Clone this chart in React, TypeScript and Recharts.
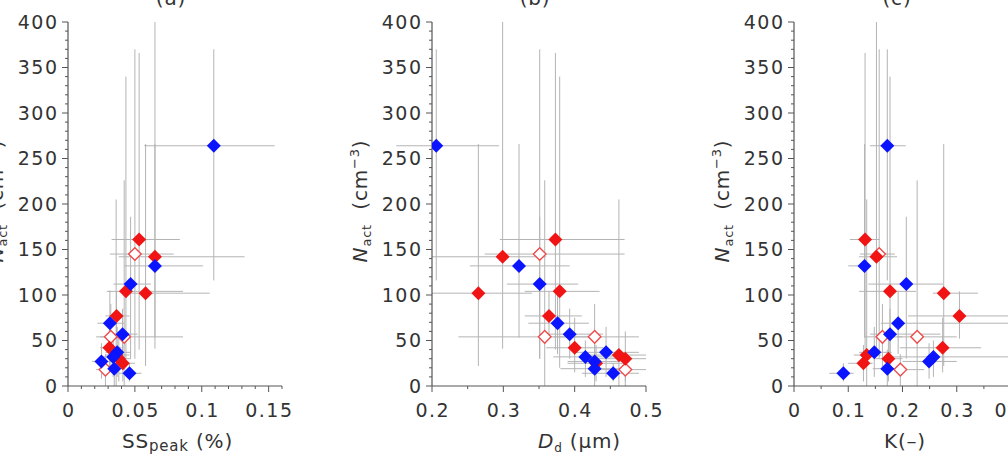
import React from 'react';
import { ScatterChart, Scatter, XAxis, YAxis, ErrorBar } from 'recharts';

// Each point: N_act with its range, and the three predictors (SS_peak, D_d, kappa) with ranges.
type Pt = {
  n: number; nR: [number, number];
  ss: number; ssR: [number, number];
  dd: number; ddR: [number, number];
  k: number; kR: [number, number];
};

const bluePoints: Pt[] = [
  { n: 264, nR: [116, 370], ss: 0.109, ssR: [0.057, 0.1545], dd: 0.206, ddR: [0.15, 0.294], k: 0.172, kR: [0.14, 0.206] },
  { n: 132, nR: [53, 266], ss: 0.065, ssR: [0.042, 0.101], dd: 0.322, ddR: [0.253, 0.393], k: 0.13, kR: [0.1, 0.14] },
  { n: 112, nR: [30, 186], ss: 0.0468, ssR: [0.034, 0.062], dd: 0.351, ddR: [0.305, 0.405], k: 0.207, kR: [0.137, 0.275] },
  { n: 69, nR: [35, 105], ss: 0.0313, ssR: [0.022, 0.042], dd: 0.376, ddR: [0.335, 0.42], k: 0.192, kR: [0.16, 0.42] },
  { n: 57, nR: [30, 85], ss: 0.0408, ssR: [0.03, 0.052], dd: 0.393, ddR: [0.35, 0.44], k: 0.177, kR: [0.14, 0.27] },
  { n: 37, nR: [10, 65], ss: 0.0368, ssR: [0.028, 0.047], dd: 0.444, ddR: [0.4, 0.49], k: 0.148, kR: [0.12, 0.18] },
  { n: 32, nR: [10, 50], ss: 0.0338, ssR: [0.025, 0.043], dd: 0.415, ddR: [0.37, 0.46], k: 0.257, kR: [0.18, 0.42] },
  { n: 27, nR: [8, 47], ss: 0.025, ssR: [0.018, 0.034], dd: 0.428, ddR: [0.39, 0.47], k: 0.249, kR: [0.2, 0.3] },
  { n: 19, nR: [0, 40], ss: 0.0346, ssR: [0.027, 0.043], dd: 0.428, ddR: [0.38, 0.47], k: 0.172, kR: [0.145, 0.2] },
  { n: 14, nR: [5, 25], ss: 0.046, ssR: [0.038, 0.055], dd: 0.454, ddR: [0.41, 0.49], k: 0.091, kR: [0.065, 0.11] },
];

const redPoints: Pt[] = [
  { n: 161, nR: [40, 366], ss: 0.0532, ssR: [0.0326, 0.0836], dd: 0.373, ddR: [0.295, 0.47], k: 0.131, kR: [0.103, 0.158] },
  { n: 142, nR: [41, 400], ss: 0.065, ssR: [0.038, 0.132], dd: 0.299, ddR: [0.2, 0.36], k: 0.152, kR: [0.12, 0.19] },
  { n: 104, nR: [20, 340], ss: 0.0433, ssR: [0.029, 0.086], dd: 0.379, ddR: [0.33, 0.435], k: 0.177, kR: [0.12, 0.225] },
  { n: 102, nR: [22, 266], ss: 0.058, ssR: [0.044, 0.106], dd: 0.265, ddR: [0.2, 0.34], k: 0.276, kR: [0.256, 0.339] },
  { n: 77, nR: [52, 104], ss: 0.0363, ssR: [0.028, 0.046], dd: 0.364, ddR: [0.33, 0.41], k: 0.305, kR: [0.21, 0.42] },
  { n: 42, nR: [15, 75], ss: 0.031, ssR: [0.024, 0.04], dd: 0.4, ddR: [0.36, 0.44], k: 0.274, kR: [0.195, 0.345] },
  { n: 34, nR: [0, 205], ss: 0.036, ssR: [0.028, 0.046], dd: 0.462, ddR: [0.42, 0.5], k: 0.134, kR: [0.11, 0.16] },
  { n: 30, nR: [5, 60], ss: 0.038, ssR: [0.03, 0.047], dd: 0.471, ddR: [0.43, 0.5], k: 0.174, kR: [0.15, 0.2] },
  { n: 25, nR: [5, 45], ss: 0.041, ssR: [0.033, 0.05], dd: 0.43, ddR: [0.39, 0.47], k: 0.128, kR: [0.1, 0.145] },
];

const openPoints: Pt[] = [
  { n: 145, nR: [30, 370], ss: 0.05, ssR: [0.0313, 0.079], dd: 0.351, ddR: [0.274, 0.47], k: 0.157, kR: [0.1215, 0.186] },
  { n: 54, nR: [0, 226], ss: 0.042, ssR: [0.021, 0.086], dd: 0.358, ddR: [0.237, 0.42], k: 0.227, kR: [0.19, 0.3] },
  { n: 54, nR: [20, 90], ss: 0.032, ssR: [0.024, 0.041], dd: 0.428, ddR: [0.37, 0.49], k: 0.163, kR: [0.13, 0.2] },
  { n: 18, nR: [0, 35], ss: 0.028, ssR: [0.021, 0.036], dd: 0.471, ddR: [0.43, 0.5], k: 0.196, kR: [0.16, 0.24] },
];

const makeTicks = (from: number, to: number, step: number) => {
  const out: number[] = [];
  const count = Math.round((to - from) / step);
  for (let i = 0; i <= count; i++) out.push(Number((from + i * step).toFixed(4)));
  return out;
};

const nActTicks = makeTicks(0, 400, 10);
const ssTicks = makeTicks(0, 0.16, 0.01);
const ddTicks = makeTicks(0.2, 0.5, 0.05);
const kTicks = makeTicks(0, 0.4, 0.05);

const AXIS = '#555';
const TEXT = '#333';
const ERR = '#b4b4b4';
const BLUE = '#0a14ff';
const RED = '#f01414';
const FONT = "'DejaVu Sans', Verdana, sans-serif";

const tickStyle: React.CSSProperties = { fontSize: 19, fontFamily: FONT, fill: TEXT, letterSpacing: 1.5 };

const isMajor = (v: number, step: number) => Math.abs(v / step - Math.round(v / step)) < 1e-6;

const YTick = (props: any) => {
  const { x, y, payload } = props;
  const v = payload.value as number;
  const major = isMajor(v, 50);
  return (
    <g>
      <line x1={x} x2={x - (major ? 6 : 3)} y1={y} y2={y} stroke={AXIS} strokeWidth={1} />
      {major && (
        <text x={x - 9.5} y={y} dy="0.36em" textAnchor="end" style={tickStyle}>
          {v}
        </text>
      )}
    </g>
  );
};

const makeXTick = (majorStep: number) => (props: any) => {
  const { x, y, payload } = props;
  const v = payload.value as number;
  const major = isMajor(v, majorStep);
  return (
    <g>
      <line x1={x} x2={x} y1={y} y2={y + (major ? 6 : 3)} stroke={AXIS} strokeWidth={1} />
      {major && (
        <text x={x + 0.75} y={y + 31} textAnchor="middle" style={tickStyle}>
          {String(v)}
        </text>
      )}
    </g>
  );
};

const R = 7;
const filledDiamond = (color: string) => (props: any) => {
  const { cx, cy } = props;
  return (
    <polygon
      points={`${cx},${cy - R} ${cx + R},${cy} ${cx},${cy + R} ${cx - R},${cy}`}
      fill={color}
      stroke="none"
    />
  );
};

const openDiamond = (props: any) => {
  const { cx, cy } = props;
  const r = R - 0.7;
  return (
    <polygon
      points={`${cx},${cy - r} ${cx + r},${cy} ${cx},${cy + r} ${cx - r},${cy}`}
      fill="#fff"
      stroke="#ee4a4a"
      strokeWidth={1.4}
    />
  );
};

const noMark = () => <g />;

type Key = 'ss' | 'dd' | 'k';
const rangeKey = { ss: 'ssR', dd: 'ddR', k: 'kR' } as const;

const toRows = (pts: Pt[], key: Key) =>
  pts.map((p) => {
    const xv = p[key];
    const xr = p[rangeKey[key]] as [number, number];
    return {
      x: xv,
      y: p.n,
      ex: [xv - xr[0], xr[1] - xv],
      ey: [p.n - p.nR[0], p.nR[1] - p.n],
    };
  });

type PanelCfg = {
  key: Key;
  left: number;
  width: number;
  marginLeft: number;
  marginRight: number;
  domain: [number, number];
  ticks: number[];
  majorStep: number;
};

const panels: PanelCfg[] = [
  { key: 'ss', left: 0, width: 300, marginLeft: 8, marginRight: 18, domain: [0, 0.16], ticks: ssTicks, majorStep: 0.05 },
  { key: 'dd', left: 330, width: 340, marginLeft: 42, marginRight: 24, domain: [0.2, 0.5], ticks: ddTicks, majorStep: 0.1 },
  { key: 'k', left: 680, width: 352, marginLeft: 54, marginRight: 21, domain: [0, 0.4], ticks: kTicks, majorStep: 0.1 },
];

function Panel({ cfg }: { cfg: PanelCfg }) {
  const blue = toRows(bluePoints, cfg.key);
  const red = toRows(redPoints, cfg.key);
  const open = toRows(openPoints, cfg.key);
  const all = [...open, ...red, ...blue];
  return (
    <div style={{ position: 'absolute', left: cfg.left, top: 0 }}>
      <ScatterChart
        width={cfg.width}
        height={461}
        margin={{ top: 22, right: cfg.marginRight, bottom: 25, left: cfg.marginLeft }}
      >
        <XAxis
          type="number"
          dataKey="x"
          domain={cfg.domain}
          ticks={cfg.ticks}
          interval={0}
          allowDataOverflow
          height={50}
          tickSize={0}
          tickMargin={0}
          tickLine={false}
          axisLine={{ stroke: AXIS, strokeWidth: 1.2 }}
          tick={makeXTick(cfg.majorStep)}
        />
        <YAxis
          type="number"
          dataKey="y"
          domain={[0, 400]}
          ticks={nActTicks}
          interval={0}
          allowDataOverflow
          width={60}
          tickSize={0}
          tickMargin={0}
          tickLine={false}
          axisLine={{ stroke: AXIS, strokeWidth: 1.2 }}
          tick={YTick}
        />
        <Scatter data={all} shape={noMark} isAnimationActive={false}>
          <ErrorBar dataKey="ex" direction="x" width={0} stroke={ERR} strokeWidth={1} isAnimationActive={false} />
          <ErrorBar dataKey="ey" direction="y" width={0} stroke={ERR} strokeWidth={1} isAnimationActive={false} />
        </Scatter>
        <Scatter data={open} shape={openDiamond} isAnimationActive={false} />
        <Scatter data={red} shape={filledDiamond(RED)} isAnimationActive={false} />
        <Scatter data={blue} shape={filledDiamond(BLUE)} isAnimationActive={false} />
      </ScatterChart>
    </div>
  );
}

const titles = ['(a)', '(b)', '(c)'];
const titleX = [171, 535, 897];
const yAxisX = [68, 432, 794];

const labelStyle: React.CSSProperties = { fontSize: 20, fontFamily: FONT, fill: TEXT, letterSpacing: 0.8 };

function NActLabel({ axisX }: { axisX: number }) {
  const bx = axisX - 65;
  const cy = 201;
  return (
    <text transform={`translate(${bx},${cy}) rotate(-90)`} textAnchor="middle" style={labelStyle}>
      <tspan fontStyle="italic">N</tspan>
      <tspan fontSize={13} dy={4}>act</tspan>
      <tspan dy={-4}>{'\u00a0\u00a0(cm'}</tspan>
      <tspan fontSize={13} dy={-8}>{'\u22123'}</tspan>
      <tspan dy={8}>)</tspan>
    </text>
  );
}

function Labels() {
  return (
    <svg width={1008} height={461} style={{ position: 'absolute', left: 0, top: 0, pointerEvents: 'none' }}>
      {titles.map((t, i) => (
        <text key={t} x={titleX[i]} y={5} textAnchor="middle" style={labelStyle}>
          {t}
        </text>
      ))}
      {yAxisX.map((ax) => (
        <NActLabel key={ax} axisX={ax} />
      ))}
      <text x={122} y={448} style={labelStyle}>
        SS
        <tspan fontSize={15} dy={3}>peak</tspan>
        <tspan dy={-3}>{'\u00a0(%)'}</tspan>
      </text>
      <text x={538} y={448} style={labelStyle}>
        <tspan fontStyle="italic">D</tspan>
        <tspan fontSize={12} dy={4}>d</tspan>
        <tspan dy={-4}>{'\u00a0(\u03bcm)'}</tspan>
      </text>
      <text x={884} y={448} style={labelStyle}>
        {'K(\u2013)'}
      </text>
    </svg>
  );
}

export default function App() {
  return (
    <div
      style={{
        position: 'absolute',
        left: 0,
        top: 0,
        width: 1008,
        height: 461,
        overflow: 'hidden',
        background: '#fff',
        fontFamily: FONT,
      }}
    >
      {panels.map((p) => (
        <Panel key={p.key} cfg={p} />
      ))}
      <Labels />
    </div>
  );
}
